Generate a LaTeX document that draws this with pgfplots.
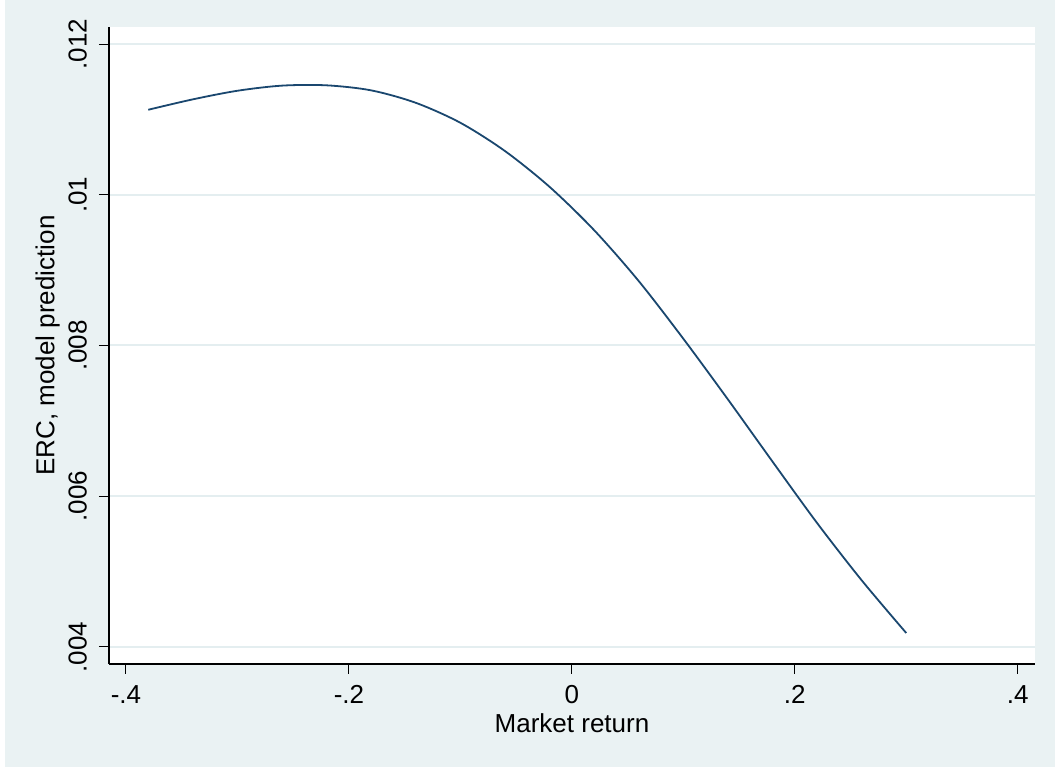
\documentclass[border=0pt]{standalone}
\usepackage{fontspec}
\setmainfont{Liberation Sans}
\usepackage{pgfplots}
\pgfplotsset{compat=1.18}
\definecolor{stbg}{RGB}{234,242,243}
\definecolor{stgrid}{RGB}{228,238,240}
\definecolor{stnavy}{RGB}{26,71,111}

\begin{document}
\fontsize{26}{30}\selectfont
\begin{tikzpicture}
% outer graph region
\fill[white] (-109pt,-103pt) rectangle (946pt,664pt);
\fill[stbg] (-104pt,-103pt) rectangle (946pt,664pt);
\begin{axis}[
    scale only axis,
    width=926pt, height=637pt,
    at={(0pt,0pt)}, anchor=south west,
    xmin=-0.41525, xmax=0.41552,
    ymin=0.003774, ymax=0.012226,
    axis background/.style={fill=white},
    axis x line*=bottom, axis y line*=left,
    axis line style={black, line width=1.2pt, -},
    ymajorgrids=true,
    major grid style={stgrid, line width=2pt},
    tick align=outside,
    major tick length=10pt,
    tick style={black, line width=1pt},
    scaled y ticks=false, scaled x ticks=false,
    xtick={-0.4,-0.2,0,0.2,0.4},
    xticklabels={-.4,-.2,0,.2,.4},
    ytick={0.004,0.006,0.008,0.01,0.012},
    yticklabels={.004,.006,.008,.01,.012},
    xticklabel style={anchor=north, inner sep=0pt},
    yticklabel style={rotate=90, anchor=south, inner sep=0pt},
    xticklabel shift=11pt,
    yticklabel shift=12pt,
    xlabel={Market return},
    ylabel={ERC, model prediction},
    every axis x label/.style={at={(axis description cs:0.5,-0.0769)}, anchor=north, inner sep=0pt},
    every axis y label/.style={at={(axis description cs:-0.0795,0.5)}, rotate=90, anchor=north, inner sep=0pt},
]
\addplot[stnavy, line width=1.8pt, smooth, mark=none] coordinates {
    (-0.38,0.011128) (-0.34,0.011266) (-0.30,0.011380) (-0.26,0.011448)
    (-0.22,0.011452) (-0.18,0.011385) (-0.14,0.011220) (-0.10,0.010955)
    (-0.06,0.010580) (-0.02,0.010105) (0.02,0.009530) (0.06,0.008855)
    (0.10,0.008090) (0.14,0.007285) (0.18,0.006460) (0.22,0.005645)
    (0.26,0.004885) (0.30,0.004185)
};
\end{axis}
\end{tikzpicture}
\end{document}
